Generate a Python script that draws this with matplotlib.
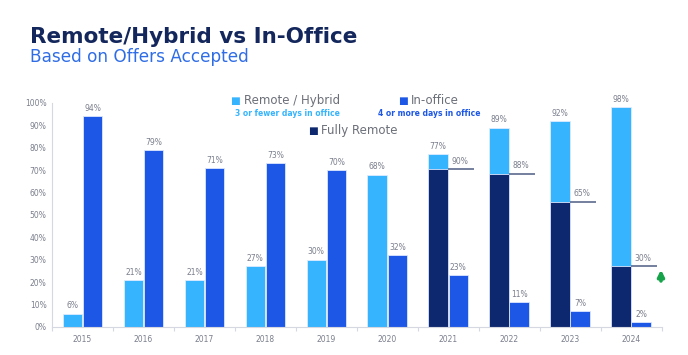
import numpy as np
import matplotlib
matplotlib.use("Agg")
import matplotlib.pyplot as plt

# data
years = [2015, 2016, 2017, 2018, 2019, 2020, 2021, 2022, 2023, 2024]
remote_hybrid = [6, 21, 21, 27, 30, 68, 77, 89, 92, 98]
in_office = [94, 79, 71, 73, 70, 32, 23, 11, 7, 2]
fully_years = [2021, 2022, 2023, 2024]
fully_remote = [70.5, 68.5, 56, 27]
fully_labels = ["90%", "88%", "65%", "30%"]
y_ticks = [0, 10, 20, 30, 40, 50, 60, 70, 80, 90, 100]

c_remote = "#36b4fd"
c_office = "#1d57e6"
c_fully = "#0e286f"
c_text = "#7a7f8c"

plt.rcParams["font.family"] = ["DejaVu Sans"]

fig = plt.figure(figsize=(6.88, 3.55), dpi=100)
ax = fig.add_axes([0.0756, 0.079, 0.886, 0.631])

x = np.arange(len(years))
w = 0.32
off = 0.165

ax.bar(x - off, remote_hybrid, w, color=c_remote, edgecolor="#dcecff", linewidth=0.6)
ax.bar(x + off, in_office, w, color=c_office, edgecolor="#dce6ff", linewidth=0.6)

fx = np.array([years.index(y) for y in fully_years])
ax.bar(fx - off, fully_remote, w, color=c_fully, edgecolor="#dce6ff", linewidth=0.6)

# value labels
for i in range(len(years)):
    ax.text(x[i] - off, remote_hybrid[i] + 1.5, f"{remote_hybrid[i]}%", ha="center",
            va="bottom", fontsize=5.5, color=c_text)
    ax.text(x[i] + off, in_office[i] + 1.5, f"{in_office[i]}%", ha="center",
            va="bottom", fontsize=5.5, color=c_text)

# fully remote share lines
for xi, h, lab in zip(fx, fully_remote, fully_labels):
    ax.plot([xi, xi + 0.43], [h, h], color="#5c6a8f", lw=1.2, solid_capstyle="butt")
    ax.text(xi + 0.19, h + 1.5, lab, ha="center", va="bottom", fontsize=5.5, color=c_text)

# green arrow next to 2024
ax.annotate("", xy=(9.49, 26.8), xytext=(9.49, 19.3), annotation_clip=False,
            arrowprops=dict(arrowstyle="-|>", color="#16a34a", lw=2.6, mutation_scale=9))

ax.set_xlim(-0.5, len(years) - 0.5)
ax.set_ylim(0, 100)
ax.set_yticks(y_ticks)
ax.set_yticklabels([f"{t}%" for t in y_ticks], fontsize=5.5, color=c_text)
ax.set_xticks(x)
ax.set_xticklabels([str(y) for y in years], fontsize=5.5, color=c_text)
ax.tick_params(axis="x", length=0, pad=6)
ax.tick_params(axis="y", length=0, pad=4)
ax.set_xticks(np.arange(-0.5, len(years)), minor=True)
ax.tick_params(axis="x", which="minor", length=3, color="#d5d8e0", width=0.8)

for side in ["top", "right"]:
    ax.spines[side].set_visible(False)
for side in ["left", "bottom"]:
    ax.spines[side].set_color("#d5d8e0")
    ax.spines[side].set_linewidth(0.8)

# titles
fig.text(0.044, 0.895, "Remote/Hybrid vs In-Office", fontsize=15.5, fontweight="bold",
         color="#14275c", va="center")
fig.text(0.044, 0.840, "Based on Offers Accepted", fontsize=12.2, color="#2f6de6", va="center")

# legend built by hand
def legend_item(xp, yp, color, label):
    fig.text(xp, yp, "\u25a0", fontsize=7.5, color=color, va="center", ha="center")
    fig.text(xp + 0.012, yp, label, fontsize=8.5, color="#6b6f78", va="center")

legend_item(0.342, 0.716, c_remote, "Remote / Hybrid")
fig.text(0.342 - 0.001, 0.679, "3 or fewer days in office", fontsize=5.5, fontweight="bold",
         color=c_remote, va="center")
legend_item(0.585, 0.716, c_office, "In-office")
fig.text(0.549, 0.679, "4 or more days in office", fontsize=5.5, fontweight="bold",
         color=c_office, va="center")
legend_item(0.455, 0.631, c_fully, "Fully Remote")

fig.savefig("out.png", dpi=100, facecolor="white")
